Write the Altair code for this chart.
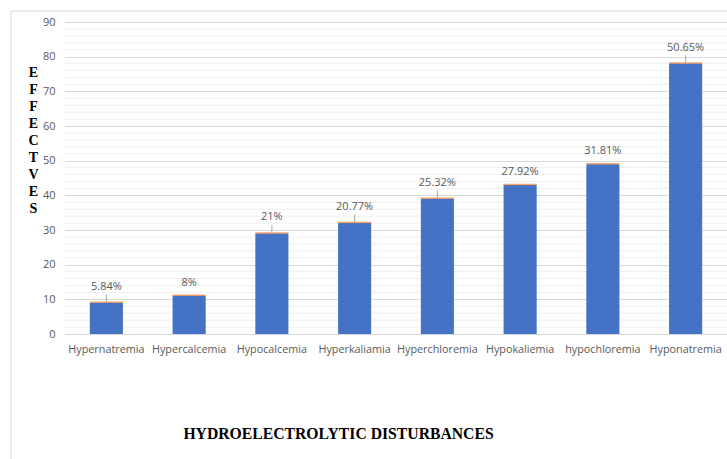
import altair as alt
import pandas as pd

# Hydroelectrolytic disturbances: counts per disorder and their share
disorders = [
    "Hypernatremia", "Hypercalcemia", "Hypocalcemia", "Hyperkaliamia",
    "Hyperchloremia", "Hypokaliemia", "hypochloremia", "Hyponatremia",
]
counts = [9, 11, 29, 32, 39, 43, 49, 78]
shares = ["5.84%", "8%", "21%", "20.77%", "25.32%", "27.92%", "31.81%", "50.65%"]
has_leader = [True, False, True, True, True, False, False, True]

# labelled ticks and the light minor gridlines between them
major_ticks = list(range(0, 91, 10))
minor_grid = [v for v in range(2, 90, 2) if v % 10 != 0]

df = pd.DataFrame({
    "disorder": disorders,
    "count": counts,
    "share": shares,
    "leader": has_leader,
})

GRAY_TXT = "#595959"
SANS = "Open Sans"
SERIF = "Liberation Serif"
W, H = 662, 312

x_enc = alt.X(
    "disorder:N",
    sort=disorders,
    scale=alt.Scale(paddingInner=0.6, paddingOuter=0.3),
    axis=alt.Axis(
        title="HYDROELECTROLYTIC  DISTURBANCES",
        titleFont=SERIF, titleFontSize=15.7, titleFontWeight="bold",
        titleColor="#000000", titleX=273, titleY=99, titleBaseline="middle",
        titleAnchor="start", titleAlign="center",
        labelAngle=0, labelFont=SANS, labelFontSize=10.8, labelColor=GRAY_TXT,
        labelPadding=9, ticks=False, domainColor="#d9d9d9",
    ),
)

y_scale = alt.Scale(domain=[0, 90], nice=False)
y_enc = alt.Y(
    "count:Q",
    scale=y_scale,
    axis=alt.Axis(
        title=["E", "F", "F", "E", "C", "T", "V", "E", "S"],
        titleAngle=0, titleFont=SERIF, titleFontSize=14, titleFontWeight="bold",
        titleColor="#000000", titleLineHeight=17, titleX=-32, titleY=50,
        titleBaseline="middle", titleAlign="center",
        values=major_ticks, tickCount=len(major_ticks), labelOverlap=False,
        labelFont=SANS, labelFontSize=11, labelColor=GRAY_TXT, labelPadding=10,
        ticks=False, domain=False, gridColor="#d9d9d9", gridWidth=1,
    ),
)

minor = alt.Chart(pd.DataFrame({"g": minor_grid})).mark_rule(
    color="#efefef", strokeWidth=1
).encode(
    y=alt.Y("g:Q", scale=y_scale),
    x=alt.value(0),
    x2=alt.value(W),
)

base = alt.Chart(df)

bars = base.mark_bar(color="#4472c4").encode(x=x_enc, y=y_enc)

caps = base.mark_tick(color="#ed7d31", thickness=1.5, size=33, yOffset=-0.5).encode(
    x=alt.X("disorder:N", sort=disorders),
    y=alt.Y("count:Q", scale=y_scale),
)

leaders = base.transform_filter("datum.leader").transform_calculate(
    top="datum.count + 2.4"
).mark_rule(color="#a6a6a6", strokeWidth=1).encode(
    x=alt.X("disorder:N", sort=disorders),
    y=alt.Y("count:Q", scale=y_scale),
    y2="top:Q",
)

labels_lead = base.transform_filter("datum.leader").mark_text(
    font=SANS, fontSize=11, color=GRAY_TXT, baseline="middle", dy=-16
).encode(
    x=alt.X("disorder:N", sort=disorders),
    y=alt.Y("count:Q", scale=y_scale),
    text="share:N",
)

labels_plain = base.transform_filter("!datum.leader").mark_text(
    font=SANS, fontSize=11, color=GRAY_TXT, baseline="middle", dy=-13
).encode(
    x=alt.X("disorder:N", sort=disorders),
    y=alt.Y("count:Q", scale=y_scale),
    text="share:N",
)

frame_data = alt.Data(values=[{}])
frame_left = alt.Chart(frame_data).mark_rule(color="#d9d9d9").encode(
    x=alt.value(-54), y=alt.value(-11), y2=alt.value(440)
)
frame_top = alt.Chart(frame_data).mark_rule(color="#d9d9d9").encode(
    x=alt.value(-54), x2=alt.value(W + 3), y=alt.value(-11)
)

chart = alt.layer(
    minor, bars, caps, leaders, labels_lead, labels_plain, frame_left, frame_top
).properties(
    width=W,
    height=H,
    autosize=alt.AutoSizeParams(type="none"),
    padding={"left": 65, "top": 22, "right": 0, "bottom": 125},
    background="white",
).configure_view(stroke=None)

chart.save("out.html", embed_options={"renderer": "svg", "actions": False})
